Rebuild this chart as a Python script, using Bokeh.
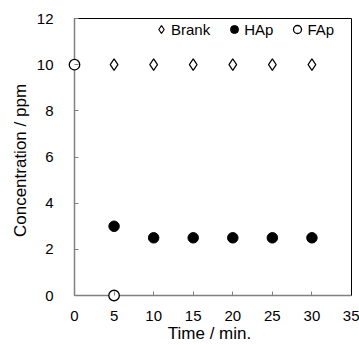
from bokeh.plotting import figure
from bokeh.models import Legend, LegendItem, Range1d, LinearAxis, FixedTicker
from bokeh.embed import file_html
from bokeh.resources import INLINE

# Data
time_brank = [5, 10, 15, 20, 25, 30]
conc_brank = [10, 10, 10, 10, 10, 10]
time_hap = [5, 10, 15, 20, 25, 30]
conc_hap = [3.0, 2.5, 2.5, 2.5, 2.5, 2.5]
time_fap = [0, 5]
conc_fap = [10, 0]
x_ticks = [0, 5, 10, 15, 20, 25, 30, 35]
y_ticks = [0, 2, 4, 6, 8, 10, 12]

FONT = "Liberation Sans"
PAD = 7          # px of frame padding so markers on the axes are not clipped
AX_LEN = 277     # px length of each axis

x_span = x_ticks[-1] - x_ticks[0]
y_span = y_ticks[-1] - y_ticks[0]

p = figure(width=359, height=345, output_backend="svg", toolbar_location=None,
           x_range=Range1d(x_ticks[0] - x_span * PAD / AX_LEN, x_ticks[-1]),
           y_range=Range1d(y_ticks[0] - y_span * PAD / AX_LEN, y_ticks[-1]),
           min_border_left=74 - PAD, min_border_right=8, min_border_top=18,
           min_border_bottom=43)

p.xgrid.visible = False
p.ygrid.visible = False
p.outline_line_color = None

xax = p.below[0]
yax = p.left[0]
for ax in (xax, yax):
    ax.axis_line_color = None
    ax.major_tick_line_color = "#808080"
    ax.major_tick_in = 4 + PAD
    ax.major_tick_out = -PAD
    ax.minor_tick_line_color = None
    ax.major_label_text_font = FONT
    ax.major_label_text_font_size = "15px"
    ax.major_label_text_color = "black"
    ax.axis_label_text_font = FONT
    ax.axis_label_text_font_size = "17px"
    ax.axis_label_text_font_style = "normal"
    ax.axis_label_text_color = "black"

xax.ticker = FixedTicker(ticks=x_ticks)
yax.ticker = FixedTicker(ticks=y_ticks)
xax.axis_label = "Time / min."
yax.axis_label = "Concentration / ppm"
xax.major_label_standoff = 8
xax.axis_label_standoff = 0
yax.major_label_standoff = 14
yax.axis_label_standoff = 4

# gray axis lines at x=0 and y=0
p.segment(x0=[x_ticks[0], x_ticks[0]], y0=[y_ticks[0], y_ticks[0]],
          x1=[x_ticks[-1], x_ticks[0]], y1=[y_ticks[0], y_ticks[-1]],
          line_color="#808080", line_width=1.5)

# black box lines on top and right
top_ax = LinearAxis(ticker=FixedTicker(ticks=[]), bounds=(x_ticks[0], x_ticks[-1]),
                    axis_line_color="black", axis_line_width=1,
                    major_tick_in=0, major_tick_out=0, major_label_standoff=0,
                    minor_tick_line_color=None, major_label_text_color=None)
right_ax = LinearAxis(ticker=FixedTicker(ticks=[]), bounds=(y_ticks[0], y_ticks[-1]),
                      axis_line_color="black", axis_line_width=1,
                      major_tick_in=0, major_tick_out=0, major_label_standoff=0,
                      minor_tick_line_color=None, major_label_text_color=None)
p.add_layout(top_ax, "above")
p.add_layout(right_ax, "right")

r_brank = p.scatter(time_brank, conc_brank, marker="diamond", size=11.5,
                    fill_color="white", line_color="black", line_width=1.2)
r_hap = p.scatter(time_hap, conc_hap, marker="circle", size=10.5,
                  fill_color="black", line_color="black", line_width=1)
r_fap = p.scatter(time_fap, conc_fap, marker="circle", size=10.5,
                  fill_color="white", line_color="black", line_width=1.3)

legend = Legend(items=[LegendItem(label="Brank", renderers=[r_brank]),
                       LegendItem(label="HAp", renderers=[r_hap]),
                       LegendItem(label="FAp", renderers=[r_fap])],
                orientation="horizontal", location=(84, 263),
                glyph_width=20, glyph_height=20, label_standoff=0, spacing=14,
                padding=0, margin=0, border_line_color=None,
                background_fill_alpha=0, label_text_font=FONT,
                label_text_font_size="15px", label_text_color="black")
p.add_layout(legend)

open("out.html", "w").write(file_html(p, INLINE))
